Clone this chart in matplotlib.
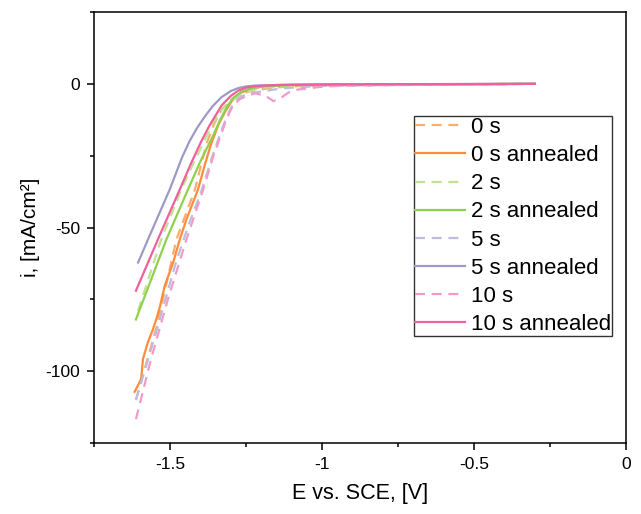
import matplotlib
matplotlib.use("Agg")
import matplotlib.pyplot as plt
from matplotlib.ticker import MultipleLocator

plt.rcParams['font.family'] = ['Liberation Sans', 'DejaVu Sans']

labels = ["0 s", "0 s annealed", "2 s", "2 s annealed",
          "5 s", "5 s annealed", "10 s", "10 s annealed"]
colors = ["#fdae6b", "#fd8d3c", "#bfe391", "#8fd14f",
          "#bcbddc", "#9e9ac8", "#f49ac8", "#f0609e"]
dashed = [True, False, True, False, True, False, True, False]

# Potential (V vs SCE) and current density (mA/cm2) per series
E_0s = [-1.612, -1.58, -1.545, -1.479, -1.418, -1.395, -1.377, -1.355, -1.33, -1.30, -1.28, -1.26,
        -1.22, -1.17, -1.11, -1.0, -0.6, -0.3]
i_0s = [-110, -98, -85, -54.2, -36.8, -27, -20, -14, -9, -5.6, -4.0, -3.2,
        -2.2, -1.5, -0.9, -0.6, -0.2, 0.0]

E_0sa = [-1.6165, -1.595, -1.589, -1.573, -1.556, -1.545, -1.534, -1.5175, -1.49, -1.468, -1.446,
         -1.408, -1.385, -1.365, -1.34, -1.32, -1.30, -1.287, -1.265, -1.243, -1.2, -1.1, -0.8, -0.3]
i_0sa = [-107.2, -102.8, -95.8, -90, -85.4, -81.9, -77.9, -70.4, -62.3, -54.2, -47.2,
         -36.8, -28, -21, -14, -10, -6.5, -4.6, -3.0, -2.1, -1.0, -0.5, -0.3, 0.0]

E_2s = [-1.605, -1.529, -1.463, -1.42, -1.385, -1.355, -1.33, -1.305, -1.287, -1.26, -1.23, -1.2,
        -1.1, -0.3]
i_2s = [-79, -54.2, -36.8, -27, -19.4, -13, -9, -6.5, -5.2, -3.5, -2.2, -1.4,
        -0.6, 0.0]

E_2sa = [-1.612, -1.512, -1.441, -1.40, -1.358, -1.335, -1.31, -1.29, -1.266, -1.24, -1.2, -1.1, -0.3]
i_2sa = [-82, -54.2, -36.8, -27, -18, -12.5, -7.5, -4.8, -2.8, -1.7, -0.9, -0.4, 0.0]

E_5s = [-1.612, -1.55, -1.48, -1.44, -1.395, -1.375, -1.36, -1.345, -1.33, -1.315, -1.30, -1.285,
        -1.266, -1.24, -1.2, -1.16, -1.11, -1.0, -0.6, -0.3]
i_5s = [-110, -88, -62, -49.5, -36.8, -30, -25, -20.5, -16, -12, -8.5, -6,
        -4.4, -3.3, -2.7, -2.0, -1.4, -0.7, -0.3, 0.0]

E_5sa = [-1.605, -1.5726, -1.501, -1.46, -1.435, -1.41, -1.385, -1.36, -1.33, -1.30, -1.276, -1.25,
         -1.22, -1.1, -0.9, -0.6, -0.3]
i_5sa = [-62.2, -54.2, -36.8, -25.5, -19.8, -15.2, -11.3, -7.8, -4.6, -2.5, -1.5, -0.9,
         -0.6, -0.3, -0.2, -0.1, 0.0]

E_10s = [-1.612, -1.563, -1.507, -1.446, -1.391, -1.36, -1.345, -1.33, -1.315, -1.30, -1.285, -1.27,
         -1.253, -1.22, -1.2, -1.18, -1.16, -1.145, -1.13, -1.11, -1.08, -1.0, -0.9, -0.6, -0.3]
i_10s = [-116.7, -96, -75, -54.2, -36.8, -26, -21.5, -17, -12.5, -9, -6.8, -5.3,
         -4.5, -3.3, -3.8, -4.6, -6.0, -5.5, -4.5, -3.0, -2.0, -1.0, -0.5, -0.3, 0.0]

E_10sa = [-1.612, -1.54, -1.468, -1.43, -1.397, -1.37, -1.35, -1.33, -1.30, -1.276, -1.25, -1.22,
          -1.15, -1.0, -0.3]
i_10sa = [-72, -54.2, -36.8, -27.5, -20, -14.5, -11, -7.5, -4.2, -2.4, -1.3, -0.8,
          -0.4, -0.2, 0.0]

series_E = [E_0s, E_0sa, E_2s, E_2sa, E_5s, E_5sa, E_10s, E_10sa]
series_i = [i_0s, i_0sa, i_2s, i_2sa, i_5s, i_5sa, i_10s, i_10sa]

fig = plt.figure(figsize=(6.41, 5.14), dpi=100)
ax = fig.add_axes([94/641, 1-443/514, (626-94)/641, (443-12)/514])

for E, cur, lab, col, d in zip(series_E, series_i, labels, colors, dashed):
    if d:
        ax.plot(E, cur, color=col, lw=1.6, dashes=(4.5, 3), label=lab)
    else:
        ax.plot(E, cur, color=col, lw=1.6, label=lab)

ax.set_xlim(-1.75, 0)
ax.set_ylim(-125, 25)
ax.xaxis.set_minor_locator(MultipleLocator(0.25))
ax.yaxis.set_minor_locator(MultipleLocator(25))
ax.set_xticks([-1.5, -1, -0.5, 0])
ax.set_xticklabels(["-1.5", "-1", "-0.5", "0"])
ax.set_yticks([-100, -50, 0])
ax.set_yticklabels(["-100", "-50", "0"])
ax.tick_params(which='major', direction='out', length=5, width=1.1, labelsize=12.5, pad=5)
ax.tick_params(which='minor', direction='out', length=3, width=1.1)
for s in ax.spines.values():
    s.set_linewidth(1.1)

ax.set_xlabel("E vs. SCE, [V]", fontsize=15.5, labelpad=8)
ax.set_ylabel("i, [mA/cm²]", fontsize=15, labelpad=4)

leg = ax.legend(loc='upper right', bbox_to_anchor=((612-94)/532, 1-(116-12)/431),
                borderaxespad=0, fontsize=16, handlelength=2.25, handletextpad=0.27,
                borderpad=0.05, labelspacing=0.32, fancybox=False, frameon=True)
leg.get_frame().set_edgecolor('black')
leg.get_frame().set_linewidth(1.0)

fig.savefig("out.png", dpi=100)
